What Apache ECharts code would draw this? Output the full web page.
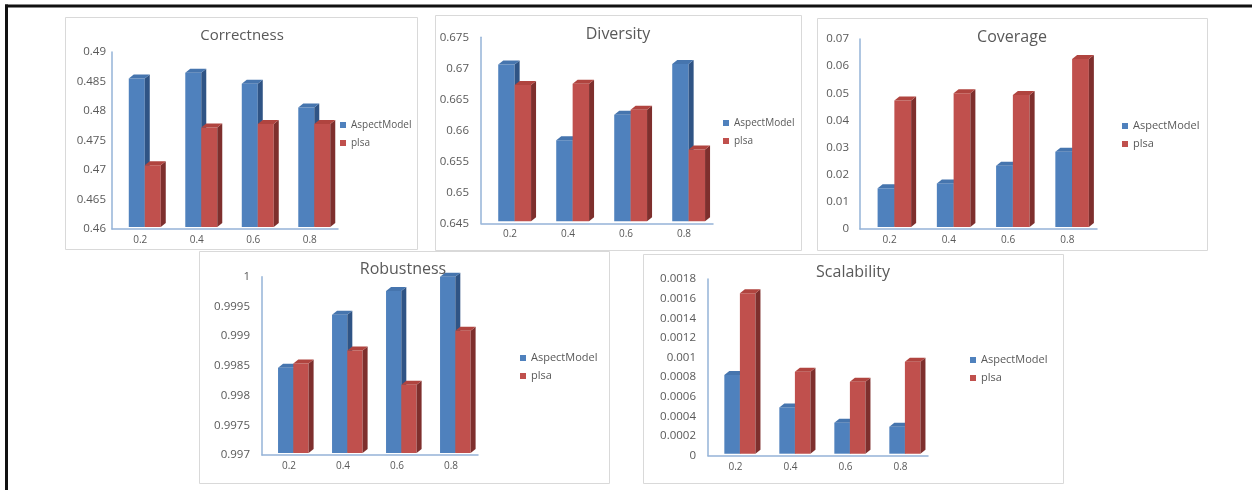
<!DOCTYPE html>
<html><head><meta charset="utf-8">
<script src="https://cdn.jsdelivr.net/npm/echarts@6/dist/echarts.min.js"></script>
<style>html,body{margin:0;padding:0;background:#fff}#c{width:1252px;height:490px}</style>
</head><body><div id="c"></div>
<script>
// ---- data ----
const categories = ['0.2', '0.4', '0.6', '0.8'];
const seriesNames = ['AspectModel', 'plsa'];
const titles = ['Correctness', 'Diversity', 'Coverage', 'Robustness', 'Scalability'];

const correctnessAspect = [0.4855, 0.4865, 0.4846, 0.4806];
const correctnessPlsa   = [0.4708, 0.4772, 0.4778, 0.4778];
const diversityAspect   = [0.6706, 0.6584, 0.6625, 0.6707];
const diversityPlsa     = [0.6673, 0.6675, 0.6633, 0.6569];
const coverageAspect    = [0.0150, 0.0168, 0.0233, 0.0285];
const coveragePlsa      = [0.0473, 0.0500, 0.0494, 0.0626];
const robustnessAspect  = [0.99847, 0.99936, 0.99976, 1.0];
const robustnessPlsa    = [0.99854, 0.99876, 0.99818, 0.99909];
const scalabilityAspect = [0.000822, 0.000492, 0.000336, 0.000295];
const scalabilityPlsa   = [0.001654, 0.000856, 0.000754, 0.000958];

// y axis tick ranges: min, max, interval
const yMins      = [0.46, 0.645, 0, 0.997, 0];
const yMaxs      = [0.49, 0.675, 0.07, 1, 0.0018];
const yIntervals = [0.005, 0.005, 0.01, 0.0005, 0.0002];

const aspectValues = [correctnessAspect, diversityAspect, coverageAspect, robustnessAspect, scalabilityAspect];
const plsaValues   = [correctnessPlsa, diversityPlsa, coveragePlsa, robustnessPlsa, scalabilityPlsa];

// ---- layout ----
const FONT = 'Open Sans';
const TXT = '#595959';
const AXIS = '#95B3D7';
const grids = [
  {left: 112, top: 52, width: 226, height: 177},
  {left: 481, top: 37.3, width: 232, height: 186},
  {left: 860, top: 39, width: 237, height: 190},
  {left: 262, top: 276.7, width: 216, height: 178.3},
  {left: 708, top: 279, width: 220, height: 176.7}
];
const labelMargins = [6, 12, 11, 12, 12];
const titlePos = [[242, 36, 15], [618, 34, 16], [1012, 37, 16], [403, 269, 16], [853, 272, 16]];
const legendPos = [[340, 119, 10], [723, 117, 10], [1122, 120, 11], [520, 352, 11], [970, 354, 11]];
const panels = [[65, 17, 417, 249], [435, 15, 801, 250], [817, 18, 1207, 250], [199, 251, 609, 483], [643, 254, 1063, 483]];

const colors = {
  blue: {front: '#4F81BD', side: '#2F5485', top: '#4675AE'},
  red:  {front: '#C0504D', side: '#7E2F2D', top: '#B0443F'}
};

function render3D(c, sign) {
  return function (params, api) {
    const cs = params.coordSys;
    const ci = api.value(0), v = api.value(1);
    const pt = api.coord([ci, v]);
    const cw = api.size([1, 0])[0];
    const bw = cw * 0.283;
    const cx = pt[0] + cw * 0.08;
    const x0 = sign < 0 ? cx - bw : cx;
    const x1 = x0 + bw;
    const yT = pt[1];
    const yB = cs.y + cs.height - 2;
    const dx = 5, dy = 4;
    return {
      type: 'group',
      children: [
        {type: 'rect', shape: {x: x0, y: yT, width: bw, height: yB - yT}, style: {fill: c.front}},
        {type: 'polygon', shape: {points: [[x1, yT], [x1 + dx, yT - dy], [x1 + dx, yB - dy], [x1, yB]]}, style: {fill: c.side}},
        {type: 'polygon', shape: {points: [[x0, yT], [x0 + dx, yT - dy], [x1 + dx, yT - dy], [x1, yT]]}, style: {fill: c.top}}
      ]
    };
  };
}

const option = {
  animation: false,
  backgroundColor: '#fff',
  textStyle: {fontFamily: FONT},
  title: titles.map((t, i) => ({
    text: t, left: titlePos[i][0], top: titlePos[i][1], padding: 0,
    textAlign: 'center', textVerticalAlign: 'middle',
    textStyle: {fontFamily: FONT, fontSize: titlePos[i][2], fontWeight: 'normal', color: TXT}
  })),
  legend: legendPos.map(p => ({
    data: seriesNames, orient: 'vertical', left: p[0], top: p[1], padding: 0,
    icon: 'rect', itemWidth: 6, itemHeight: 6, itemGap: 6,
    textStyle: {fontFamily: FONT, fontSize: p[2], color: TXT, lineHeight: 12}
  })),
  grid: grids.map(g => Object.assign({containLabel: false}, g)),
  xAxis: grids.map((g, i) => ({
    type: 'category', gridIndex: i, data: categories,
    axisLine: {show: true, lineStyle: {color: AXIS, width: 1.5}},
    axisTick: {show: false},
    axisLabel: {fontFamily: FONT, fontSize: 10, color: TXT, margin: 6},
    splitLine: {show: false}
  })),
  yAxis: grids.map((g, i) => ({
    type: 'value', gridIndex: i, min: yMins[i], max: yMaxs[i], interval: yIntervals[i],
    axisLine: {show: true, lineStyle: {color: AXIS, width: 1.5}},
    axisTick: {show: false},
    axisLabel: {fontFamily: FONT, fontSize: 11.5, color: TXT, margin: labelMargins[i]},
    splitLine: {show: false}
  })),
  series: [],
  graphic: []
};

for (let i = 0; i < 5; i++) {
  option.series.push({
    type: 'custom', name: seriesNames[0], xAxisIndex: i, yAxisIndex: i,
    itemStyle: {color: colors.blue.front}, encode: {x: 0, y: 1}, clip: false,
    renderItem: render3D(colors.blue, -1),
    data: aspectValues[i].map((v, k) => [k, v])
  });
  option.series.push({
    type: 'custom', name: seriesNames[1], xAxisIndex: i, yAxisIndex: i,
    itemStyle: {color: colors.red.front}, encode: {x: 0, y: 1}, clip: false,
    renderItem: render3D(colors.red, 1),
    data: plsaValues[i].map((v, k) => [k, v])
  });
}

panels.forEach(p => {
  option.graphic.push({
    type: 'rect', z: 0, silent: true,
    shape: {x: p[0] + 0.5, y: p[1] + 0.5, width: p[2] - p[0], height: p[3] - p[1]},
    style: {fill: 'none', stroke: '#D9D9D9', lineWidth: 1}
  });
});
option.graphic.push({type: 'rect', z: 10, silent: true, shape: {x: 5, y: 4.5, width: 1247, height: 3}, style: {fill: '#111'}});
option.graphic.push({type: 'rect', z: 10, silent: true, shape: {x: 5, y: 4.5, width: 3, height: 486}, style: {fill: '#111'}});

const chart = echarts.init(document.getElementById('c'), null, {renderer: 'canvas'});
chart.setOption(option);
</script></body></html>
